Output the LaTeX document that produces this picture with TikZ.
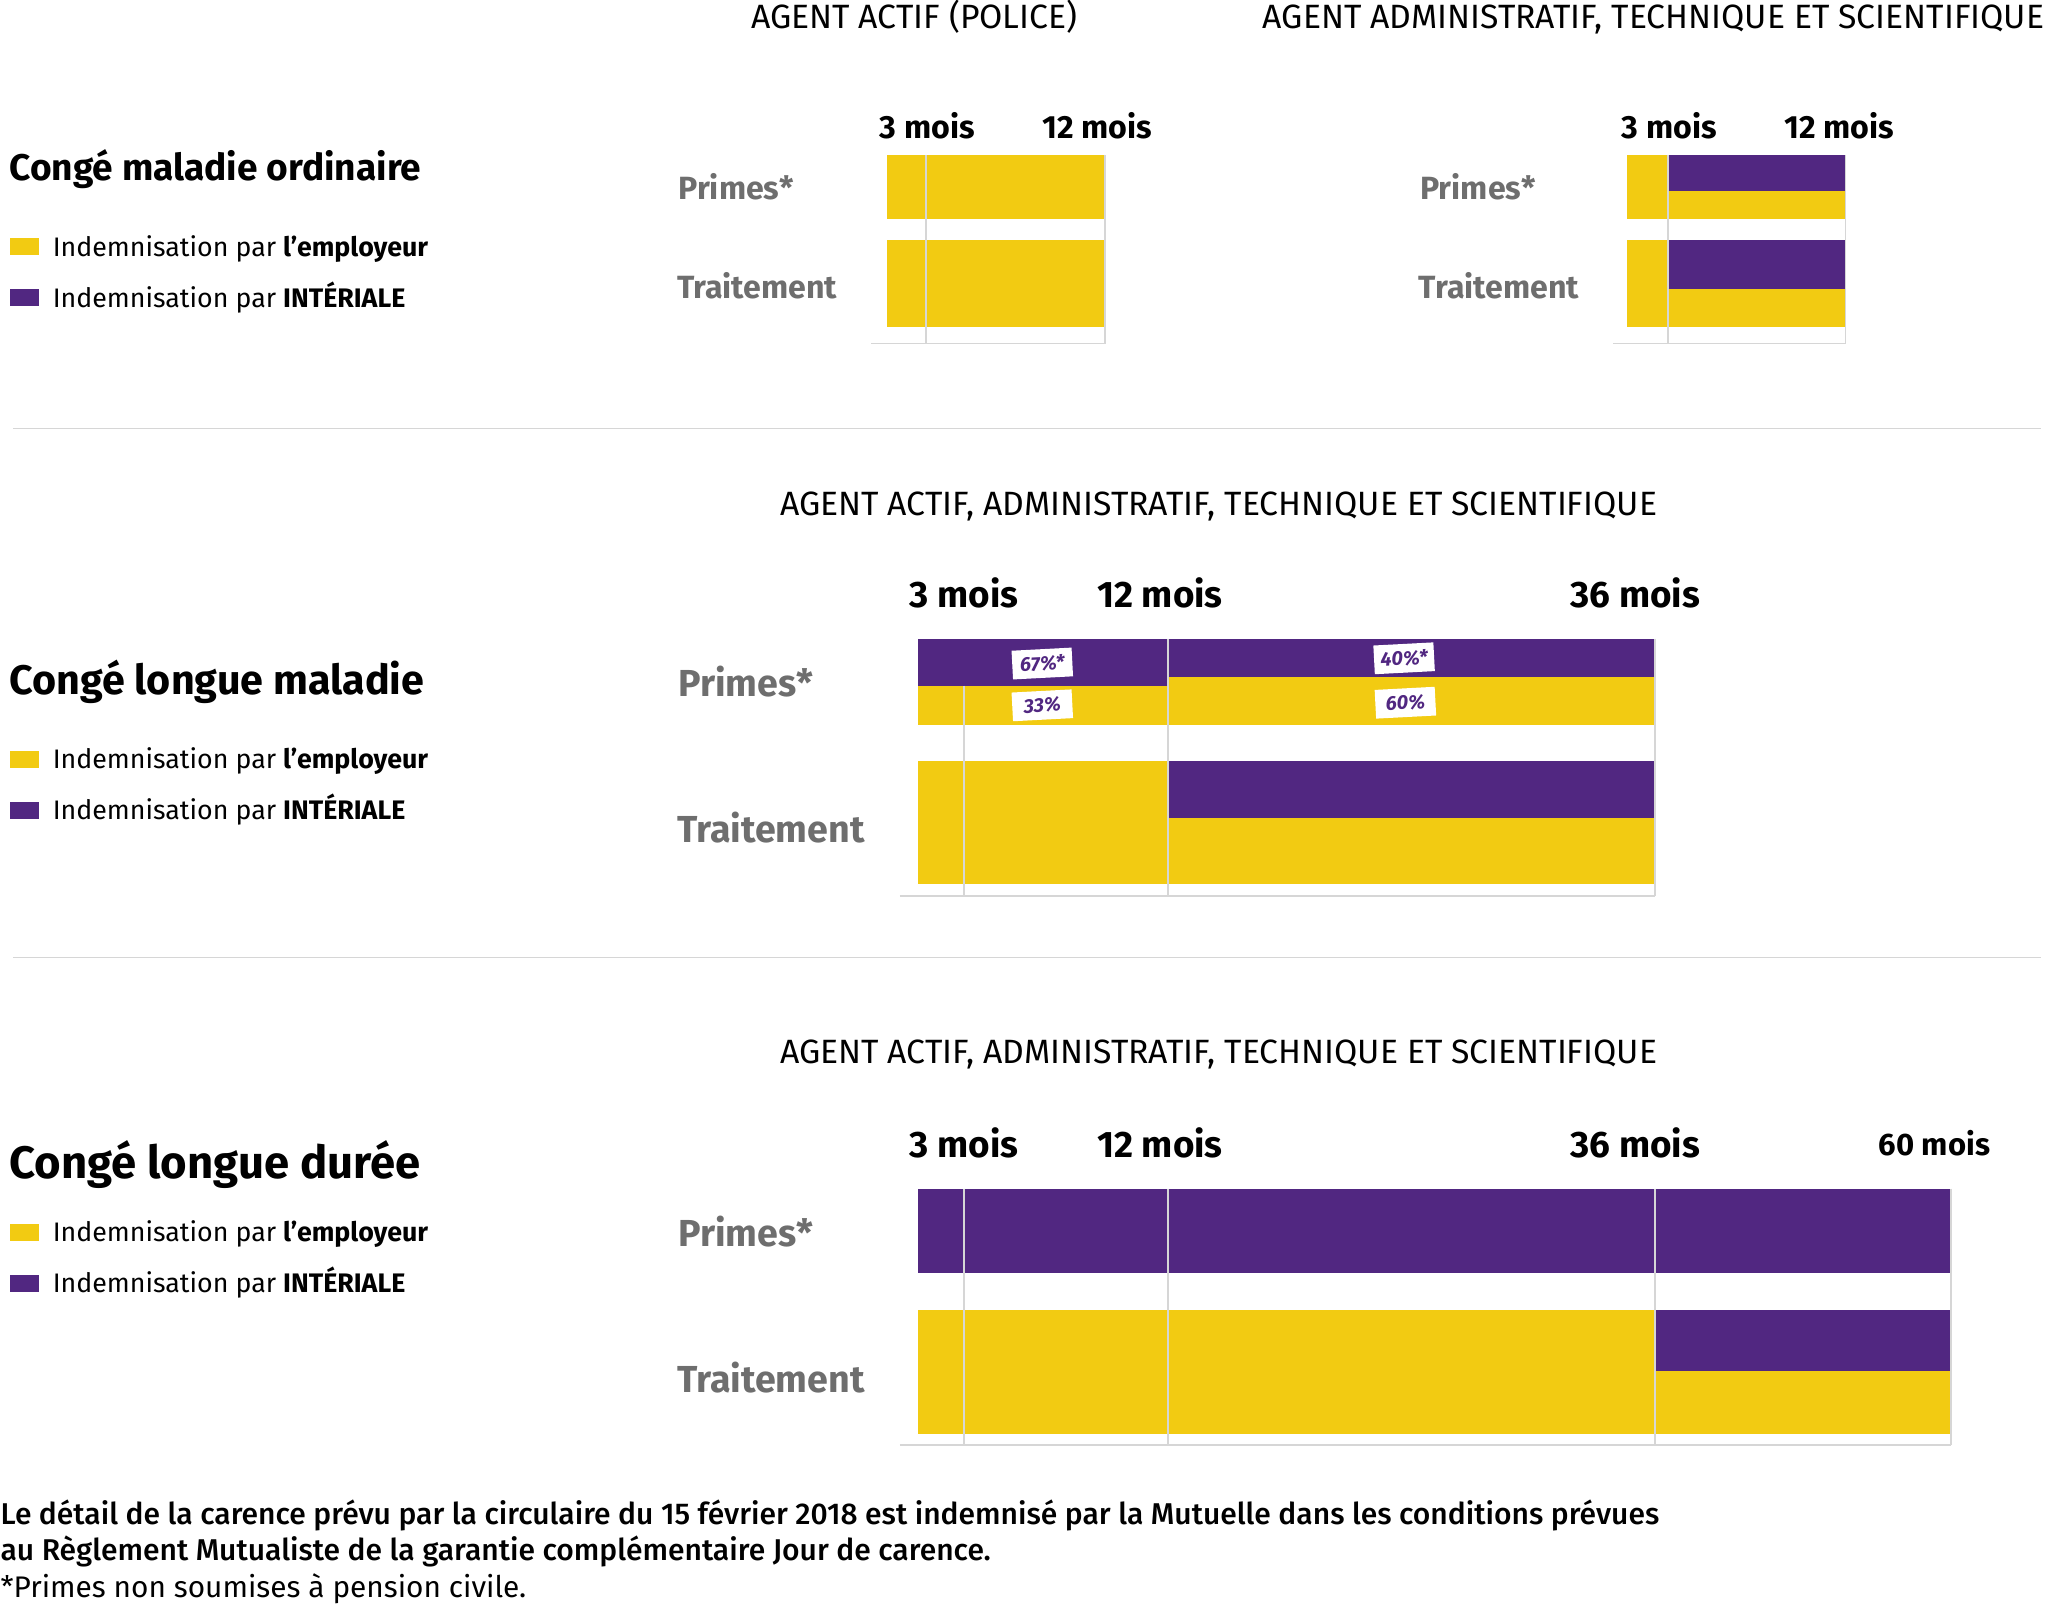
\documentclass[tikz,border=0pt]{standalone}
\usepackage{fontspec}
\setmainfont{Fira Sans}
\newfontfamily\mediumfont{Fira Sans Medium}
\usepackage{tikz}
\usepackage{xcolor}
\definecolor{employeur}{HTML}{F2CB12}
\definecolor{interiale}{HTML}{512781}
\definecolor{labelgray}{HTML}{6E6E6E}
\definecolor{gridgray}{HTML}{D6D6D6}
\tikzset{
    bar-employeur/.style = {fill=employeur, draw=none},
    bar-interiale/.style = {fill=interiale, draw=none},
    grid-line/.style = {draw=gridgray, line width=0.7pt},
    separator/.style = {draw=gridgray, line width=0.6pt},
    group-title/.style = {anchor=base, inner sep=0pt, font=\fontsize{12.9}{15}\selectfont},
    month/.style = {anchor=base, inner sep=0pt, font=\bfseries\fontsize{12.3}{14}\selectfont},
    month-big/.style = {anchor=base, inner sep=0pt, font=\bfseries\fontsize{14.1}{16}\selectfont},
    leave-title/.style = {anchor=base west, inner sep=0pt, font=\bfseries\fontsize{14.2}{16}\selectfont},
    leave-title-big/.style = {anchor=base west, inner sep=0pt, font=\bfseries\fontsize{15.8}{18}\selectfont},
    leave-title-huge/.style = {anchor=base west, inner sep=0pt, font=\bfseries\fontsize{17.4}{20}\selectfont},
    legend-box/.style = {rectangle, draw=none, minimum width=11pt, minimum height=6.5pt, inner sep=0pt},
    legend-text/.style = {anchor=base west, inner sep=0pt, font=\fontsize{10.25}{12}\selectfont},
    row-label/.style = {anchor=base west, inner sep=0pt, text=labelgray, font=\bfseries\fontsize{12.3}{14}\selectfont},
    row-label-big/.style = {anchor=base west, inner sep=0pt, text=labelgray, font=\bfseries\fontsize{14.4}{17}\selectfont},
    rate-tag/.style = {fill=white, text=interiale, inner sep=0pt, minimum width=23pt, minimum height=11pt, rotate=3, font=\bfseries\itshape\fontsize{7.6}{9}\selectfont},
    note/.style = {anchor=base west, inner sep=0pt, font=\fontsize{11.4}{13}\selectfont},
}

\begin{document}
\begin{tikzpicture}[x=0.5pt, y=-0.5pt]
\useasboundingbox (0,0) rectangle (1568,1228);

% Conge maladie ordinaire
\node[group-title] (cmo-actif) at (700,21.5) {AGENT ACTIF (POLICE)};
\node[group-title] (cmo-ats) at (1266,21.5) {AGENT ADMINISTRATIF, TECHNIQUE ET SCIENTIFIQUE};
\node[leave-title] (cmo-title) at (7,138.5) {Congé maladie ordinaire};
\node[legend-box, fill=employeur] (cmo-key-emp) at (19,188.5) {};
\node[legend-text] (cmo-txt-emp) at (40,196.5) {Indemnisation par \textbf{l’employeur}};
\node[legend-box, fill=interiale] (cmo-key-int) at (19,227.5) {};
\node[legend-text] (cmo-txt-int) at (40,235.5) {Indemnisation par \textbf{INTÉRIALE}};

\node[row-label] (cmo-primes-a) at (519,152.5) {Primes*};
\node[row-label] (cmo-trait-a) at (518,228.5) {Traitement};
\node[month] (cmo-3-a) at (710,106) {3 mois};
\node[month] (cmo-12-a) at (840,106) {12 mois};
\fill[bar-employeur] (679,119) rectangle (846,168);
\fill[bar-employeur] (679,184) rectangle (846,250);
\foreach \x in {709,846}
    \draw[grid-line] (\x,119) -- (\x,263);
\draw[grid-line] (667,263) -- (846,263);

\node[row-label] (cmo-primes-b) at (1087,152.5) {Primes*};
\node[row-label] (cmo-trait-b) at (1086,228.5) {Traitement};
\node[month] (cmo-3-b) at (1278,106) {3 mois};
\node[month] (cmo-12-b) at (1408,106) {12 mois};
\fill[bar-employeur] (1246,119) rectangle (1413,168);
\fill[bar-interiale] (1277,119) rectangle (1413,146);
\fill[bar-employeur] (1246,184) rectangle (1413,250);
\fill[bar-interiale] (1277,184) rectangle (1413,221);
\foreach \x in {1277,1413}
    \draw[grid-line] (\x,119) -- (\x,263);
\draw[grid-line] (1235,263) -- (1413,263);

\draw[separator] (10,328) -- (1563,328);

% Conge longue maladie
\node[group-title] (clm-group) at (933,394.5) {AGENT ACTIF, ADMINISTRATIF, TECHNIQUE ET SCIENTIFIQUE};
\node[leave-title-big] (clm-title) at (7,532) {Congé longue maladie};
\node[legend-box, fill=employeur] (clm-key-emp) at (19,581.5) {};
\node[legend-text] (clm-txt-emp) at (40,588.5) {Indemnisation par \textbf{l’employeur}};
\node[legend-box, fill=interiale] (clm-key-int) at (19,620.5) {};
\node[legend-text] (clm-txt-int) at (40,627.5) {Indemnisation par \textbf{INTÉRIALE}};

\node[row-label-big] (clm-primes) at (519,533) {Primes*};
\node[row-label-big] (clm-trait) at (518,645) {Traitement};
\node[month-big] (clm-3) at (738,465) {3 mois};
\node[month-big] (clm-12) at (888,465) {12 mois};
\node[month-big] (clm-36) at (1252,465) {36 mois};
\fill[bar-employeur] (703,489) rectangle (1267,555);
\fill[bar-interiale] (703,489) rectangle (894,525);
\fill[bar-interiale] (894,489) rectangle (1267,518);
\fill[bar-employeur] (703,583) rectangle (1267,677);
\fill[bar-interiale] (894,583) rectangle (1267,626);
\draw[grid-line] (738,525) -- (738,686);
\foreach \x in {894,1267}
    \draw[grid-line] (\x,489) -- (\x,686);
\draw[grid-line] (689,686) -- (1267,686);
\node[rate-tag] (clm-67) at (798,508) {67\%*};
\node[rate-tag] (clm-33) at (798,540) {33\%};
\node[rate-tag] (clm-40) at (1075,504) {40\%*};
\node[rate-tag] (clm-60) at (1076,538) {60\%};

\draw[separator] (10,733) -- (1563,733);

% Conge longue duree
\node[group-title] (cld-group) at (933,814.5) {AGENT ACTIF, ADMINISTRATIF, TECHNIQUE ET SCIENTIFIQUE};
\node[leave-title-huge] (cld-title) at (7,902) {Congé longue durée};
\node[legend-box, fill=employeur] (cld-key-emp) at (19,943.5) {};
\node[legend-text] (cld-txt-emp) at (40,950.5) {Indemnisation par \textbf{l’employeur}};
\node[legend-box, fill=interiale] (cld-key-int) at (19,982.5) {};
\node[legend-text] (cld-txt-int) at (40,989.5) {Indemnisation par \textbf{INTÉRIALE}};

\node[row-label-big] (cld-primes) at (519,954) {Primes*};
\node[row-label-big] (cld-trait) at (518,1066) {Traitement};
\node[month-big] (cld-3) at (738,886) {3 mois};
\node[month-big] (cld-12) at (888,886) {12 mois};
\node[month-big] (cld-36) at (1252,886) {36 mois};
\node[month, font=\bfseries\fontsize{11.9}{14}\selectfont] (cld-60) at (1481,885) {60 mois};
\fill[bar-interiale] (703,910) rectangle (1494,975);
\fill[bar-employeur] (703,1003) rectangle (1494,1098);
\fill[bar-interiale] (1267,1003) rectangle (1494,1050);
\foreach \x in {738,894,1267,1494}
    \draw[grid-line] (\x,910) -- (\x,1106);
\draw[grid-line] (689,1106) -- (1494,1106);

% notes
\node[note, font=\mediumfont\fontsize{11.5}{13}\selectfont] (note-1) at (0,1167) {Le détail de la carence prévu par la circulaire du 15 février 2018 est indemnisé par la Mutuelle dans les conditions prévues};
\node[note, font=\mediumfont\fontsize{11.5}{13}\selectfont] (note-2) at (0,1195) {au Règlement Mutualiste de la garantie complémentaire Jour de carence.};
\node[note] (note-3) at (0,1223) {*Primes non soumises à pension civile.};
\end{tikzpicture}
\end{document}
